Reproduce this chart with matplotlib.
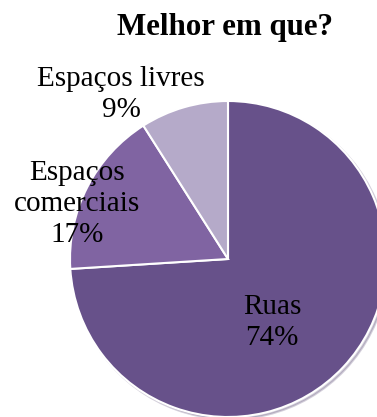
import matplotlib.pyplot as plt

# dados do gráfico
categorias = ["Ruas", "Espaços comerciais", "Espaços livres"]
rotulos = ["Ruas", "Espaços\ncomerciais", "Espaços livres"]
valores = [74, 17, 9]
cores = ["#67518A", "#8064A2", "#B5AAC9"]

plt.rcParams["font.family"] = ["Liberation Serif", "DejaVu Serif"]

W, H = 377, 417
fig = plt.figure(figsize=(W / 100, H / 100), dpi=100)
cx, cy, r = 228, 259, 158
ax = fig.add_axes([(cx - r) / W, (H - cy - r) / H, 2 * r / W, 2 * r / H])

wedges, _ = ax.pie(valores, colors=cores, startangle=90, counterclock=False,
                   radius=1.0,
                   wedgeprops=dict(edgecolor="white", linewidth=1.5),
                   shadow=dict(ox=0.01, oy=-0.01, shade=0.2, alpha=0.25))
ax.set_xlim(-1, 1)
ax.set_ylim(-1, 1)
ax.set_aspect("equal")
ax.axis("off")

# posições dos rótulos (em unidades do raio)
pos_rotulos = [(0.278, -0.405), (-0.956, 0.348), (-0.677, 1.04)]
for rot, v, (x, y) in zip(rotulos, valores, pos_rotulos):
    ax.text(x, y, f"{rot}\n{v}%", ha="center", va="center", fontsize=21,
            linespacing=1.25, color="black", clip_on=False)

fig.text(225 / W, 1 - 27 / H, "Melhor em que?", ha="center", va="center",
         fontsize=22.3, fontweight="bold")

fig.savefig("out.png", dpi=100)
